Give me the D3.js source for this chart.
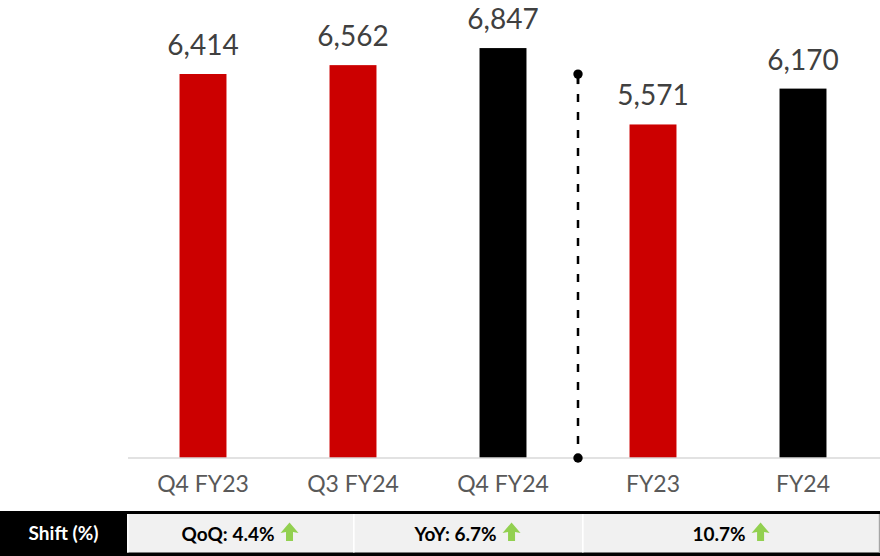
<!DOCTYPE html>
<html>
<head>
<meta charset="utf-8">
<script src="https://cdn.jsdelivr.net/npm/d3@7"></script>
<style>
  html, body { margin: 0; padding: 0; background: #ffffff; }
  svg { display: block; }
</style>
</head>
<body>
<svg id="chart" width="880" height="556"></svg>
<script>
// ---- data ----
const categories = ["Q4 FY23", "Q3 FY24", "Q4 FY24", "FY23", "FY24"];
const values = [6414, 6562, 6847, 5571, 6170];
const barColors = ["#cc0000", "#cc0000", "#000000", "#cc0000", "#000000"];
const shiftTitle = "Shift (%)";
const shiftLabels = ["QoQ: 4.4%", "YoY: 6.7%", "10.7%"];
const shiftUp = [true, true, true];

// ---- layout ----
const W = 880, H = 556;
const svg = d3.select("#chart");
const baseY = 458;
const font = "Lato, 'Open Sans', sans-serif";

const x = d3.scaleBand()
  .domain(categories)
  .range([128, 878])
  .paddingInner(0.687)
  .paddingOuter(0.3435);

const y = d3.scaleLinear()
  .domain([0, 7650])
  .range([baseY, 0]);

// bars
svg.append("g").selectAll("rect")
  .data(categories)
  .join("rect")
  .attr("x", d => x(d))
  .attr("y", (d, i) => y(values[i]))
  .attr("width", x.bandwidth())
  .attr("height", (d, i) => y(0) - y(values[i]))
  .attr("fill", (d, i) => barColors[i]);

// value labels
const fmt = d3.format(",");
svg.append("g").selectAll("text")
  .data(categories)
  .join("text")
  .attr("x", d => x(d) + x.bandwidth() / 2)
  .attr("y", (d, i) => y(values[i]) - 19)
  .attr("text-anchor", "middle")
  .attr("font-family", font)
  .attr("font-size", 28)
  .attr("fill", "#404040")
  .text((d, i) => fmt(values[i]));

// x axis
const xAxis = d3.axisBottom(x).tickSize(0).tickPadding(18);
const gx = svg.append("g")
  .attr("transform", `translate(0,${baseY})`)
  .call(xAxis);
gx.select(".domain").attr("stroke", "#d9d9d9").attr("stroke-width", 1.5)
  .attr("d", `M128,0H880`);
gx.selectAll("text")
  .attr("font-family", font)
  .attr("font-size", 23)
  .attr("fill", "#595959");

// separator between quarterly and annual groups
const sepX = (x(categories[2]) + x.bandwidth() / 2 + x(categories[3]) + x.bandwidth() / 2) / 2;
const sepTop = y(values[2]) + 26;
svg.append("line")
  .attr("x1", sepX).attr("x2", sepX)
  .attr("y1", sepTop).attr("y2", baseY)
  .attr("stroke", "#000").attr("stroke-width", 2.5)
  .attr("stroke-dasharray", "8,10")
  .attr("stroke-dashoffset", -2);
svg.append("line")
  .attr("x1", sepX).attr("x2", sepX)
  .attr("y1", sepTop).attr("y2", sepTop + 10)
  .attr("stroke", "#000").attr("stroke-width", 2.5);
[sepTop, baseY].forEach(cy => {
  svg.append("circle").attr("cx", sepX).attr("cy", cy).attr("r", 4.7).attr("fill", "#000");
});

// ---- shift table ----
const tTop = 511, tBot = 556;
const tbl = svg.append("g");
tbl.append("rect").attr("x", 0).attr("y", tTop).attr("width", W).attr("height", tBot - tTop).attr("fill", "#000");

const cellEdges = [
  x.range()[0] - 1,
  x(categories[1]) + x.bandwidth() / 2,
  sepX + 4,
  W
];
const cells = shiftLabels.map((t, i) => ({ t, x0: cellEdges[i], x1: cellEdges[i + 1], up: shiftUp[i] }));

tbl.selectAll("rect.cell")
  .data(cells)
  .join("rect")
  .attr("class", "cell")
  .attr("x", d => d.x0)
  .attr("y", tTop + 3)
  .attr("width", d => d.x1 - d.x0)
  .attr("height", 38.5)
  .attr("fill", "#f1f1f1");
// white separators / inner left edges
tbl.selectAll("rect.sep")
  .data(cells)
  .join("rect")
  .attr("class", "sep")
  .attr("x", d => d.x0)
  .attr("y", tTop + 3)
  .attr("width", 1.6)
  .attr("height", 38.5)
  .attr("fill", "#ffffff");
tbl.append("rect").attr("x", W - 1.2).attr("y", tTop + 3).attr("width", 1.2).attr("height", 38.5).attr("fill", "#a6a6a6");

// header cell text
tbl.append("text")
  .attr("x", (cellEdges[0]) / 2)
  .attr("y", 540)
  .attr("text-anchor", "middle")
  .attr("font-family", font)
  .attr("font-weight", "bold")
  .attr("font-size", 19)
  .attr("fill", "#ffffff")
  .text(shiftTitle);

// cell texts + arrows
const arrowW = 18, gap = 6;
cells.forEach(c => {
  const g = tbl.append("g");
  const txt = g.append("text")
    .attr("y", 541)
    .attr("font-family", font)
    .attr("font-weight", "bold")
    .attr("font-size", 19)
    .attr("fill", "#000000")
    .text(c.t);
  const tw = txt.node().getComputedTextLength();
  const total = tw + gap + arrowW;
  const sx = (c.x0 + c.x1) / 2 - total / 2;
  txt.attr("x", sx);
  const ax = sx + tw + gap;
  const aTop = 522.5, aMid = 533, aBot = 541, sw = 7;
  const cx = ax + arrowW / 2;
  const path = c.up
    ? `M${cx},${aTop}L${ax + arrowW},${aMid}L${cx + sw / 2},${aMid - 1}L${cx + sw / 2},${aBot}L${cx - sw / 2},${aBot}L${cx - sw / 2},${aMid - 1}L${ax},${aMid}Z`
    : `M${cx},${aBot}L${ax + arrowW},${aTop + 8}L${cx + sw / 2},${aTop + 10}L${cx + sw / 2},${aTop}L${cx - sw / 2},${aTop}L${cx - sw / 2},${aTop + 10}L${ax},${aTop + 8}Z`;
  g.append("path").attr("d", path).attr("fill", c.up ? "#92d050" : "#ff0000");
});
</script>
</body>
</html>
